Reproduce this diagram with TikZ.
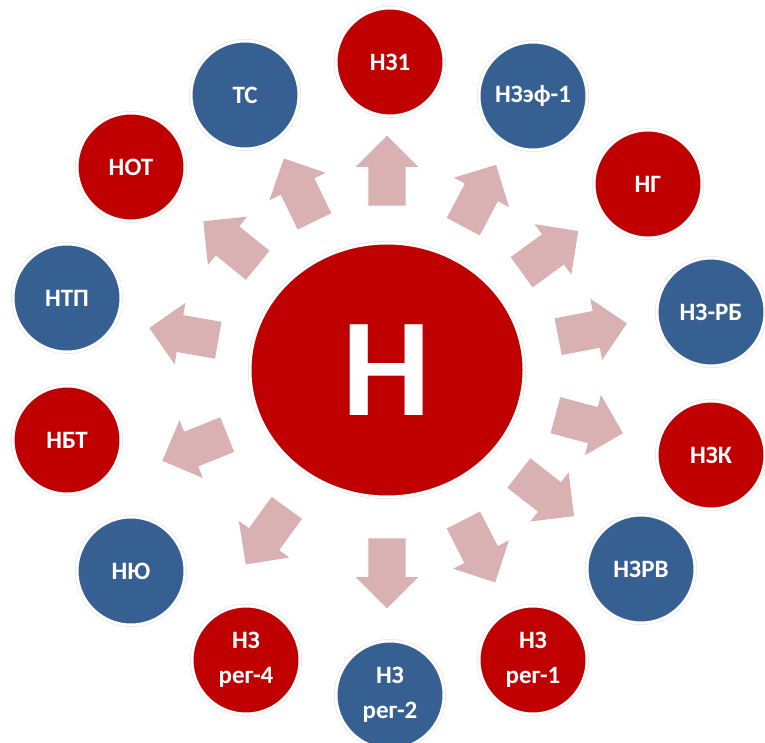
\documentclass[tikz,border=0pt]{standalone}
\usepackage{fontspec}
\setmainfont{Carlito}
\usepackage{tikz}
\usetikzlibrary{shapes.geometric, shapes.arrows}

\definecolor{nred}{RGB}{192,0,0}
\definecolor{nblue}{RGB}{55,96,146}
\definecolor{npink}{RGB}{217,177,179}

\begin{document}
\begin{tikzpicture}[x=1pt, y=1pt,
    ball/.style={circle, minimum size=108pt, inner sep=0pt,
        preaction={draw=black!12, line width=4pt},
        draw=white, line width=3pt, text=white, align=center,
        font=\bfseries\fontsize{25}{35}\selectfont},
    redball/.style={ball, fill=nred},
    blueball/.style={ball, fill=nblue},
    blockarrow/.style={single arrow, fill=npink, draw=none,
        inner xsep=0pt, inner ysep=18.5pt, minimum height=70pt,
        single arrow head extend=12.5pt}]
    \useasboundingbox (0,0) rectangle (765,742);
    % centre
    \node [ellipse, minimum width=274pt, minimum height=254pt, inner sep=0pt,
        fill=nred, preaction={draw=black!12, line width=4pt},
        draw=white, line width=3pt, text=white,
        font=\bfseries\fontsize{140}{140}\selectfont] (N) at (387,372) {Н};
    % outer ring
    \node [redball] (nz1) at (390,680) {НЗ1};
    \node [blueball] (nzef) at (533,646) {НЗэф-1};
    \node [redball] (ng) at (648,558) {НГ};
    \node [blueball] (nzrb) at (711,430) {НЗ-РБ};
    \node [redball] (nzk) at (711,287) {НЗК};
    \node [blueball] (nzrv) at (641,173) {НЗРВ};
    \node [redball] (nzreg1) at (533,82) {НЗ\\рег-1};
    \node [blueball] (nzreg2) at (390,47) {НЗ\\рег-2};
    \node [redball] (nzreg4) at (246,82) {НЗ\\рег-4};
    \node [blueball] (nyu) at (131,171) {НЮ};
    \node [redball] (nbt) at (67,302) {НБТ};
    \node [blueball] (ntp) at (67,444) {НТП};
    \node [redball] (nout) at (131,575) {НОТ};
    \node [blueball] (ts) at (245,647) {ТС};
    % arrows
    \node [blockarrow, rotate=90] (a1) at ([shift={(90:190)}]N.center) {};
    \node [blockarrow, rotate=116] (a2) at ([shift={(116:191)}]N.center) {};
    \node [blockarrow, rotate=141] (a3) at ([shift={(141:192)}]N.center) {};
    \node [blockarrow, rotate=170] (a4) at ([shift={(170:197)}]N.center) {};
    \node [blockarrow, rotate=202] (a5) at ([shift={(202:198)}]N.center) {};
    \node [blockarrow, rotate=234] (a6) at ([shift={(234:196)}]N.center) {};
    \node [blockarrow, rotate=270] (a7) at ([shift={(270:194)}]N.center) {};
    \node [blockarrow, rotate=297] (a8) at ([shift={(297:194)}]N.center) {};
    \node [blockarrow, rotate=322] (a9) at ([shift={(322:193)}]N.center) {};
    \node [blockarrow, rotate=345] (a10) at ([shift={(345:200)}]N.center) {};
    \node [blockarrow, rotate=11] (a11) at ([shift={(11:200)}]N.center) {};
    \node [blockarrow, rotate=36] (a12) at ([shift={(36:192)}]N.center) {};
    \node [blockarrow, rotate=62] (a13) at ([shift={(62:188)}]N.center) {};
\end{tikzpicture}
\end{document}
